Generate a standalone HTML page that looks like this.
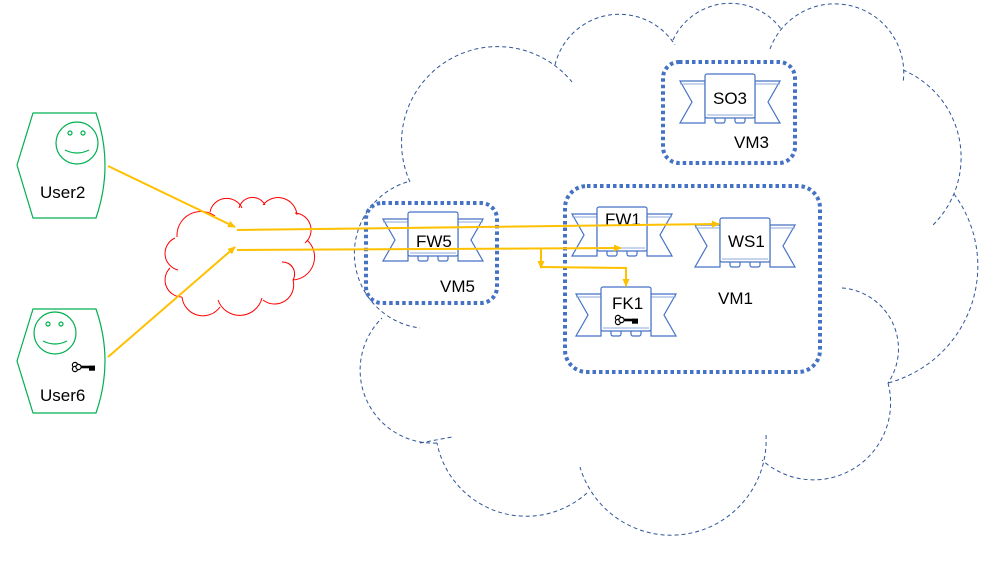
<!DOCTYPE html>
<html><head><meta charset="utf-8"><style>
html,body{margin:0;padding:0;background:#fff;}
svg{display:block;}
text{font-family:"Liberation Sans",sans-serif;font-size:17px;fill:#000;}
</style></head><body>
<svg width="1000" height="563" viewBox="0 0 1000 563" xmlns="http://www.w3.org/2000/svg">
<defs>
<marker id="ah" markerWidth="8" markerHeight="8" refX="7" refY="4" orient="auto" markerUnits="userSpaceOnUse">
<path d="M0,0.5 L8,4 L0,7.5 Z" fill="#FFC000"/></marker>
<g id="key">
<circle cx="-8" cy="-2" r="2.6" fill="#fff" stroke="#000" stroke-width="1.2"/>
<circle cx="-8" cy="2" r="2.6" fill="#fff" stroke="#000" stroke-width="1.2"/>
<circle cx="-4.5" cy="0" r="2.6" fill="#fff" stroke="#000" stroke-width="1.2"/>
<rect x="-2" y="-1.3" width="14" height="2.6" fill="#000"/>
<rect x="6" y="-1.3" width="6" height="5" fill="#000"/>
</g>
<g id="node">
<polygon points="-25,7 0,7 0,49 -25,49 -13,28" fill="#fff" stroke="#4472C4" stroke-width="1.2"/>
<polygon points="75,7 50,7 50,49 75,49 63,28" fill="#fff" stroke="#4472C4" stroke-width="1.2"/>
<line x1="-25" y1="10" x2="0" y2="10" stroke="#8FAADC" stroke-width="1"/>
<line x1="50" y1="10" x2="75" y2="10" stroke="#8FAADC" stroke-width="1"/>
<rect x="10" y="40" width="10" height="9" rx="2" fill="#fff" stroke="#4472C4" stroke-width="1.2"/>
<rect x="30" y="40" width="10" height="9" rx="2" fill="#fff" stroke="#4472C4" stroke-width="1.2"/>
<rect x="0" y="0" width="50" height="44" rx="2" fill="#fff" stroke="#4472C4" stroke-width="1.2"/>
<line x1="2" y1="41" x2="48" y2="41" stroke="#8FAADC" stroke-width="1"/>
</g>
</defs>

<!-- big dashed cloud -->
<g fill="none" stroke="#2F5597" stroke-width="1" stroke-dasharray="4 3">
<path d="M407,182 A75,75 0 0 0 420,328"/>
<path d="M410,182 A96,96 0 0 1 572,82"/>
<path d="M555,65 A66,66 0 0 1 675,45"/>
<path d="M673,40 A63,63 0 0 1 781,29"/>
<path d="M770,49 A69,69 0 0 1 903,83"/>
<path d="M903,70 A95,95 0 0 1 933,225"/>
<path d="M954,194 A121,121 0 0 1 888,383"/>
<path d="M842,288 A61,61 0 0 1 888,383"/>
<path d="M888,383 A77,77 0 0 1 762,460"/>
<path d="M766,435 A95,95 0 0 1 580,467"/>
<path d="M587,493 A91,91 0 0 1 437,443"/>
<path d="M420,443 L452,437"/>
<path d="M437,443 A73,73 0 0 1 382,318"/>
</g>

<!-- red cloud -->
<g fill="none" stroke="#FF0000" stroke-width="1">
<path d="M177,237 A24,24 0 0 1 215,216"/>
<path d="M210,212 A17,17 0 0 1 242,208"/>
<path d="M239,208 A14,14 0 0 1 265,205"/>
<path d="M263,205 A19,19 0 0 1 297,215"/>
<path d="M295,213 A17,17 0 0 1 305,243"/>
<path d="M307,240 A23,23 0 0 1 293,280"/>
<path d="M282,262 A12,12 0 0 1 293,280"/>
<path d="M293,280 A19,19 0 0 1 263,300"/>
<path d="M262,298 A23,23 0 0 1 218,300"/>
<path d="M220,307 A21,21 0 0 1 182,297"/>
<path d="M182,297 A17,17 0 0 1 170,268"/>
<path d="M178,270 A17,17 0 0 1 175,238"/>
</g>

<!-- users -->
<g fill="none" stroke="#00B050" stroke-width="1.2">
<path d="M17,165 L33,113 L96,113 Q114,165 96,218 L33,218 Z"/>
<circle cx="77" cy="143" r="21"/>
<circle cx="70" cy="133" r="2"/><circle cx="83" cy="133" r="2"/>
<path d="M65,150 Q77,156 89,150"/>
<path d="M17,361 L33,309 L96,309 Q114,361 96,413 L33,413 Z"/>
<circle cx="55" cy="333" r="21"/>
<circle cx="48" cy="324" r="2"/><circle cx="61" cy="324" r="2"/>
<path d="M43,341 Q55,347 67,341"/>
</g>
<use href="#key" x="83" y="367"/>
<text x="40" y="198">User2</text>
<text x="40" y="401">User6</text>

<!-- VM containers -->
<g fill="none" stroke="#4472C4" stroke-width="4" stroke-dasharray="3.5 3">
<rect x="366" y="203" width="131" height="100" rx="16"/>
<rect x="565" y="186" width="255" height="186" rx="22"/>
<rect x="663" y="62" width="132" height="101" rx="16"/>
</g>

<!-- nodes -->
<use href="#node" x="408" y="212"/>
<use href="#node" x="597" y="207"/>
<use href="#node" x="720" y="218"/>
<use href="#node" x="601" y="287"/>
<use href="#node" x="705" y="74"/>
<text x="416" y="247">FW5</text>
<text x="605" y="225">FW1</text>
<text x="728" y="247">WS1</text>
<text x="612" y="309">FK1</text>
<text x="713" y="104">SO3</text>
<use href="#key" x="626" y="320"/>
<text x="440" y="292">VM5</text>
<text x="718" y="304">VM1</text>
<text x="734" y="148">VM3</text>

<!-- connectors -->
<g fill="none" stroke="#FFC000" stroke-width="2">
<line x1="108" y1="166" x2="235" y2="227" marker-end="url(#ah)"/>
<line x1="108" y1="357" x2="235" y2="247" marker-end="url(#ah)"/>
<line x1="237" y1="230" x2="719" y2="224" marker-end="url(#ah)"/>
<line x1="237" y1="250" x2="621" y2="248" marker-end="url(#ah)"/>
<polyline points="541,249 541,268" marker-end="url(#ah)"/>
<polyline points="541,267 626,268 626,286" marker-end="url(#ah)"/>
</g>
</svg>
</body></html>
